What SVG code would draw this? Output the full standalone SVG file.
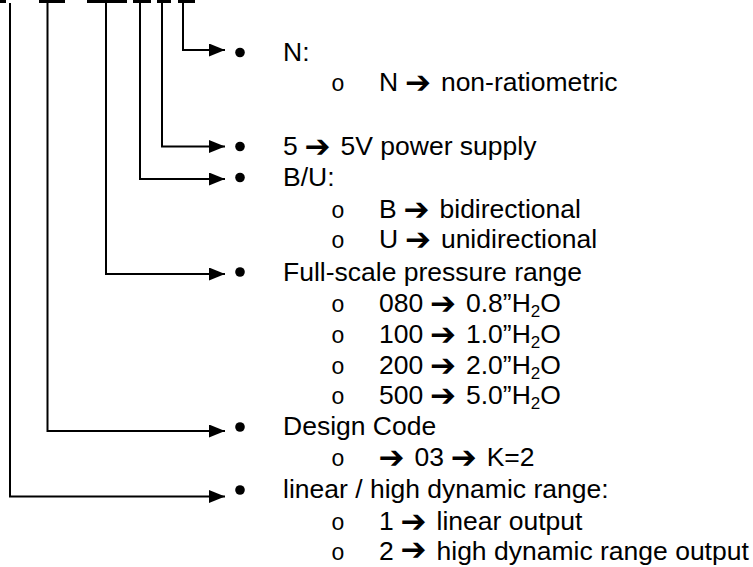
<svg xmlns="http://www.w3.org/2000/svg" width="753" height="567" viewBox="0 0 753 567">
<defs>
<style>
text{font-family:"Liberation Sans",Arial,sans-serif;font-size:26.5px;fill:#000}
.ar{font-family:"DejaVu Sans",sans-serif;font-size:31px;font-weight:bold}
.sb{font-family:"Liberation Mono","Courier New",monospace;font-size:23px}
.sub{font-size:17px}
.c{fill:none;stroke:#000;stroke-width:2}
.bl{fill:#000}
</style>
<marker id="ah" markerUnits="userSpaceOnUse" markerWidth="17" markerHeight="14" refX="16" refY="6.5" orient="auto">
<path d="M0,0 L16,6.5 L0,13 z" fill="#000"/>
</marker>
</defs>
<rect width="753" height="567" fill="#fff"/>
<g id="top-bars" fill="#000">
<rect x="0" y="0" width="6" height="3"/>
<rect x="39" y="0" width="26" height="3"/>
<rect x="87" y="0" width="40" height="3"/>
<rect x="133" y="0" width="18" height="3"/>
<rect x="157" y="0" width="14" height="3"/>
<rect x="178" y="0" width="17" height="3"/>
</g>
<g id="connectors">
<path class="c" d="M183,3 V50 H225" marker-end="url(#ah)"/>
<path class="c" d="M162,3 V146.5 H225" marker-end="url(#ah)"/>
<path class="c" d="M140,3 V179 H225" marker-end="url(#ah)"/>
<path class="c" d="M106,3 V274 H225" marker-end="url(#ah)"/>
<path class="c" d="M47.5,3 V431 H225" marker-end="url(#ah)"/>
<path class="c" d="M10,3 V496.5 H225" marker-end="url(#ah)"/>
</g>
<g id="item-n">
<circle class="bl" cx="240" cy="52.5" r="4.8"/>
<text x="283" y="61">N:</text>
<text class="sb" x="338" y="91" text-anchor="middle">o</text>
<text y="91"><tspan x="379">N</tspan><tspan class="ar" x="405" y="92.5">➔</tspan><tspan x="440.9" y="91">non-ratiometric</tspan></text>
</g>
<g id="item-5">
<circle class="bl" cx="240" cy="146.5" r="4.8"/>
<text y="155"><tspan x="283">5</tspan><tspan class="ar" x="304.6" y="156.5">➔</tspan><tspan x="340.5" y="155">5V power supply</tspan></text>
</g>
<g id="item-bu">
<circle class="bl" cx="240" cy="177.5" r="4.8"/>
<text x="283" y="186">B/U:</text>
<text class="sb" x="338" y="218" text-anchor="middle">o</text>
<text y="218"><tspan x="379">B</tspan><tspan class="ar" x="403.6" y="219.5">➔</tspan><tspan x="439.5" y="218">bidirectional</tspan></text>
<text class="sb" x="338" y="248" text-anchor="middle">o</text>
<text y="248"><tspan x="379">U</tspan><tspan class="ar" x="405" y="249.5">➔</tspan><tspan x="440.9" y="248">unidirectional</tspan></text>
</g>
<g id="item-range">
<circle class="bl" cx="240" cy="272" r="4.8"/>
<text x="283" y="281">Full-scale pressure range</text>
<text class="sb" x="338" y="312" text-anchor="middle">o</text>
<text y="312"><tspan x="379">080</tspan><tspan class="ar" x="430.1" y="313.5">➔</tspan><tspan x="466" y="312">0.8”H</tspan><tspan class="sub" dy="5">2</tspan><tspan dy="-5">O</tspan></text>
<text class="sb" x="338" y="343" text-anchor="middle">o</text>
<text y="343"><tspan x="379">100</tspan><tspan class="ar" x="430.1" y="344.5">➔</tspan><tspan x="466" y="343">1.0”H</tspan><tspan class="sub" dy="5">2</tspan><tspan dy="-5">O</tspan></text>
<text class="sb" x="338" y="374" text-anchor="middle">o</text>
<text y="374"><tspan x="379">200</tspan><tspan class="ar" x="430.1" y="375.5">➔</tspan><tspan x="466" y="374">2.0”H</tspan><tspan class="sub" dy="5">2</tspan><tspan dy="-5">O</tspan></text>
<text class="sb" x="338" y="404" text-anchor="middle">o</text>
<text y="404"><tspan x="379">500</tspan><tspan class="ar" x="430.1" y="405.5">➔</tspan><tspan x="466" y="404">5.0”H</tspan><tspan class="sub" dy="5">2</tspan><tspan dy="-5">O</tspan></text>
</g>
<g id="item-design">
<circle class="bl" cx="240" cy="427" r="4.8"/>
<text x="283" y="435">Design Code</text>
<text class="sb" x="338" y="466" text-anchor="middle">o</text>
<text y="466"><tspan class="ar" x="378.5" y="467.5">➔</tspan><tspan x="414.4" y="466">03</tspan><tspan class="ar" x="450.8" y="467.5">➔</tspan><tspan x="486.7" y="466">K=2</tspan></text>
</g>
<g id="item-linear">
<circle class="bl" cx="240" cy="490" r="4.8"/>
<text x="283" y="498">linear / high dynamic range:</text>
<text class="sb" x="338" y="530" text-anchor="middle">o</text>
<text y="530"><tspan x="379">1</tspan><tspan class="ar" x="400.6" y="531.5">➔</tspan><tspan x="436.5" y="530">linear output</tspan></text>
<text class="sb" x="338" y="560" text-anchor="middle">o</text>
<text y="560"><tspan x="379">2</tspan><tspan class="ar" x="400.6" y="559.5">➔</tspan><tspan x="436.5" y="560">high dynamic range output</tspan></text>
</g>
</svg>
